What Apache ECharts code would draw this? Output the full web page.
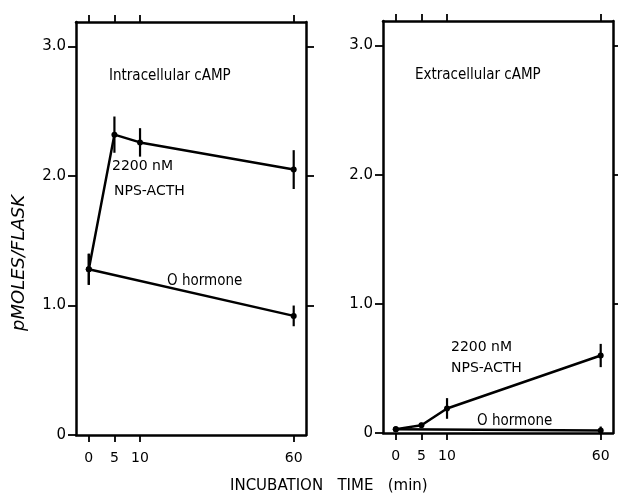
<!DOCTYPE html>
<html><head><meta charset="utf-8">
<script src="https://cdn.jsdelivr.net/npm/echarts@6/dist/echarts.min.js"></script>
<style>html,body{margin:0;padding:0;background:#fff}#c{width:618px;height:496px}</style>
</head><body><div id="c"></div>
<script>
// Incubation times (min)
const times = [0, 5, 10, 60];
const xTickLabels = ['0', '5', '10', '60'];
const yTicks = [0, 1, 2, 3];
const yTicksRight = [1, 2, 3];
// Intracellular cAMP (pmoles/flask)
const intraActh = [1.28, 2.32, 2.26, 2.05];
const intraActhErr = [0.12, 0.14, 0.11, 0.15];
const intraZeroTimes = [0, 60];
const intraZero = [1.28, 0.92];
const intraZeroErr = [0.12, 0.08];
// Extracellular cAMP (pmoles/flask)
const extraActh = [0.03, 0.06, 0.19, 0.60];
const extraActhErr = [0.0, 0.02, 0.08, 0.09];
const extraZeroTimes = [0, 60];
const extraZero = [0.03, 0.02];
const extraZeroErr = [0.02, 0.03];

// broken time axis: 0-10 min expanded, 10-60 compressed
function tx(t){ return t <= 10 ? t : 10 + (t - 10) * 0.6; }
const tickPos = times.map(tx);

const chart = echarts.init(document.getElementById('c'));
const FONT = '"DejaVu Sans", sans-serif';

function pts(ts, vs){ return ts.map((t,i)=>[tx(t), vs[i]]); }
function errs(ts, vs, es){ return ts.map((t,i)=>[tx(t), vs[i]-es[i], vs[i]+es[i]]).filter(d=>d[2]-d[1]>0); }

const grids = [
  {left:76, top:22, width:230, height:413},
  {left:383, top:21, width:230, height:412}
];

const xAxes = [], yAxes = [];
grids.forEach((g,gi)=>{
  [ 'bottom','top' ].forEach(pos=>{
    xAxes.push({
      type:'value', gridIndex:gi, position:pos, min:-2.5, max:42.4,
      axisLine:{show:true, onZero:false, lineStyle:{color:'#000', width:2.5}},
      axisTick:{show:true, inside:false, length:7, customValues:tickPos, lineStyle:{color:'#000', width:1.8}},
      axisLabel:{show:pos==='bottom', customValues:tickPos, margin:16, color:'#000', fontSize:14, fontFamily:FONT,
        formatter:v=>{const i=tickPos.findIndex(p=>Math.abs(p-v)<1e-6); return i>=0?xTickLabels[i]:'';}},
      splitLine:{show:false}
    });
  });
  [ 'left','right' ].forEach(pos=>{
    yAxes.push({
      type:'value', gridIndex:gi, position:pos, min:0, max:3.19,
      axisLine:{show:true, onZero:false, lineStyle:{color:'#000', width:2.5}},
      axisTick:{show:true, inside:false, length:8, customValues:pos==='left'?yTicks:yTicksRight, lineStyle:{color:'#000', width:1.8}},
      axisLabel:{show:pos==='left', customValues:yTicks, margin:10, color:'#000', fontSize:15, fontFamily:FONT,
        formatter:v=> v===0 ? '0' : v.toFixed(1)},
      splitLine:{show:false}
    });
  });
});

function lineSeries(gi, data){
  return {type:'line', xAxisIndex:gi*2, yAxisIndex:gi*2, data:data,
    symbol:'circle', symbolSize:6, showSymbol:true,
    lineStyle:{color:'#000', width:2.5}, itemStyle:{color:'#000'}, silent:true, z:3};
}
function errSeries(gi, data){
  return {type:'custom', xAxisIndex:gi*2, yAxisIndex:gi*2, data:data, silent:true, z:4,
    renderItem:(params, api)=>{
      const a = api.coord([api.value(0), api.value(1)]);
      const b = api.coord([api.value(0), api.value(2)]);
      return {type:'line', shape:{x1:a[0], y1:a[1], x2:b[0], y2:b[1]}, style:{stroke:'#000', lineWidth:2.2}};
    }};
}

const COND = '"DejaVu Sans Condensed", "DejaVu Sans", sans-serif';
function label(x, y, text, font){ return {type:'text', x:x, y:y, style:{text:text, fill:'#000', verticalAlign:'middle', font:font}}; }

chart.setOption({
  animation:false,
  grid:grids,
  xAxis:xAxes,
  yAxis:yAxes,
  series:[
    lineSeries(0, pts(times, intraActh)),
    errSeries(0, errs(times, intraActh, intraActhErr)),
    lineSeries(0, pts(intraZeroTimes, intraZero)),
    errSeries(0, errs(intraZeroTimes, intraZero, intraZeroErr)),
    lineSeries(1, pts(times, extraActh)),
    errSeries(1, errs(times, extraActh, extraActhErr)),
    lineSeries(1, pts(extraZeroTimes, extraZero)),
    errSeries(1, errs(extraZeroTimes, extraZero, extraZeroErr))
  ],
  graphic:[
    label(109, 76, 'Intracellular cAMP', '15px ' + COND),
    label(112, 166, '2200 nM', '14px ' + FONT),
    label(114, 191, 'NPS-ACTH', '14px ' + FONT),
    label(167, 281, 'O hormone', '15px ' + COND),
    label(415, 75, 'Extracellular cAMP', '15px ' + COND),
    label(451, 347, '2200 nM', '14px ' + FONT),
    label(451, 368, 'NPS-ACTH', '14px ' + FONT),
    label(477, 421, 'O hormone', '15px ' + COND),
    {type:'text', x:230, y:486, style:{text:'INCUBATION   TIME   (min)', fill:'#000', verticalAlign:'middle', font:'15px ' + FONT}},
    {type:'text', x:19, y:263, rotation:Math.PI/2, style:{text:'pMOLES/FLASK', fill:'#000', align:'center', verticalAlign:'middle', font:'italic 18px ' + FONT}}
  ]
});
</script>
</body></html>
